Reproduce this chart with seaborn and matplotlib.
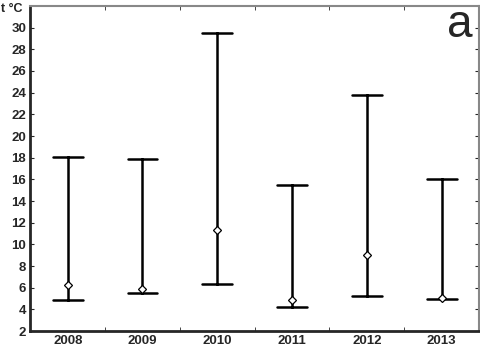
import numpy as np
import pandas as pd
import seaborn as sns
import matplotlib.pyplot as plt
from matplotlib.ticker import FixedLocator

# yearly water temperature: minimum, median, maximum
years = ["2008", "2009", "2010", "2011", "2012", "2013"]
t_min = [4.9, 5.5, 6.35, 4.25, 5.2, 4.95]
t_median = [6.25, 5.9, 11.3, 4.85, 9.0, 5.1]
t_max = [18.1, 17.9, 29.5, 15.5, 23.8, 16.0]

rows = []
for y, lo, med, hi in zip(years, t_min, t_median, t_max):
    for v in (lo, med, hi):
        rows.append({"year": y, "t": v})
df = pd.DataFrame(rows)

sns.set_style("ticks")
plt.rcParams['font.family'] = ['Liberation Sans', 'DejaVu Sans']

fig, ax = plt.subplots(figsize=(4.81, 3.5), dpi=100)
fig.subplots_adjust(left=0.063, right=0.996, top=0.983, bottom=0.054)

# whiskers span min..max, diamond marks the median
sns.pointplot(data=df, x="year", y="t", ax=ax, estimator=np.median,
              errorbar=lambda x: (x.min(), x.max()), capsize=0.4,
              linestyle="none", color="black", marker="D",
              markersize=4.5, markerfacecolor="white", markeredgecolor="black",
              markeredgewidth=0.9, err_kws={"linewidth": 1.8})
for ln in ax.lines:
    if ln.get_marker() == "D":
        ln.set_zorder(5)

ax.set_xlim(-0.5, 5.5)
ax.set_ylim(2, 32)
ax.set_yticks(range(2, 31, 2))
ax.set_xlabel("")
ax.set_ylabel("")

ax.tick_params(axis="x", which="major", length=0, pad=3)
ax.xaxis.set_minor_locator(FixedLocator([0.5, 1.5, 2.5, 3.5, 4.5]))
ax.tick_params(axis="x", which="minor", direction="in", length=3, top=True, bottom=True)
ax.tick_params(axis="y", direction="in", length=3, right=True, pad=3)
for lab in ax.get_xticklabels() + ax.get_yticklabels():
    lab.set_fontweight("bold")
    lab.set_fontsize(9.5)

ax.spines["left"].set_linewidth(2)
ax.spines["bottom"].set_linewidth(2)
for s in ("top", "right"):
    ax.spines[s].set_visible(True)
    ax.spines[s].set_color("#888888")
    ax.spines[s].set_linewidth(1.5)

fig.text(0.002, 0.99, "t °C", fontsize=9, fontweight="bold", va="top", ha="left")
ax.text(0.985, 0.905, "a", transform=ax.transAxes, fontsize=33, va="baseline", ha="right")

plt.savefig("out.png", dpi=100)
